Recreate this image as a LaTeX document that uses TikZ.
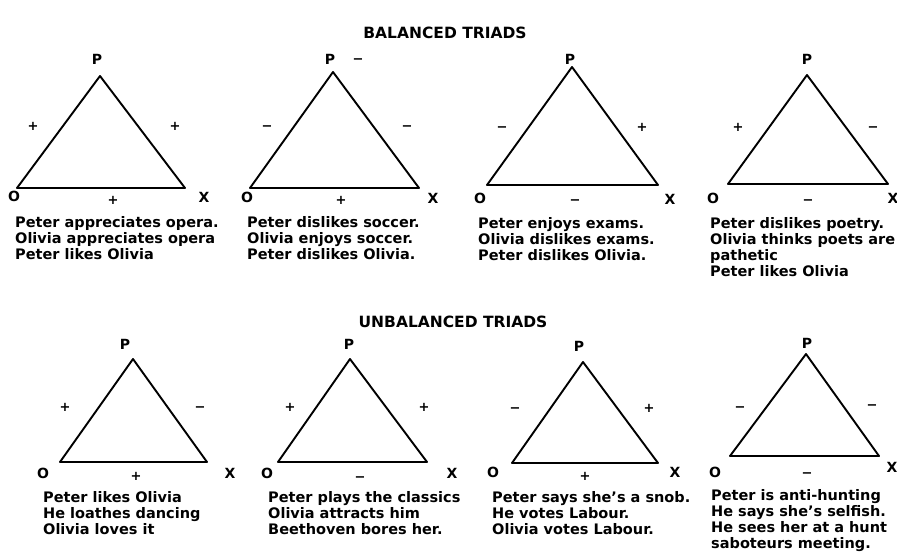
\documentclass[tikz,border=0pt]{standalone}
\usepackage{fontspec}
\setmainfont{DejaVu Sans}
\tikzset{
  edge/.style={line width=1.9pt, line join=round},
  vlabel/.style={font=\bfseries\fontsize{14}{16}\selectfont, inner sep=0pt},
  sign/.style={font=\bfseries\fontsize{13}{14}\selectfont, inner sep=0pt},
  caption/.style={font=\bfseries\fontsize{14.5}{16}\selectfont, align=left, anchor=north west, inner sep=0pt},
  heading/.style={font=\bfseries\fontsize{15.5}{18}\selectfont, inner sep=0pt}
}
\newcommand{\pl}{\vphantom{+}+}
\newcommand{\mi}{\vphantom{+}\char"2212}
\begin{document}
\begin{tikzpicture}[x=1pt,y=-1pt]
\useasboundingbox (0,0) rectangle (897,554);
\clip (0,0) rectangle (897,554);

% headings
\node[heading] (hbal) at (445,33) {BALANCED TRIADS};
\node[heading] (hunb) at (453,322) {UNBALANCED TRIADS};

% ---------- T1
\coordinate (t1a) at (100,76); \coordinate (t1o) at (17,188); \coordinate (t1x) at (185,188);
\draw[edge] (t1a) -- (t1o) -- (t1x) -- cycle;
\node[vlabel] (t1p) at (97,59) {P};
\node[vlabel] (t1ol) at (14,196) {O};
\node[vlabel] (t1xl) at (204,197) {X};
\node[sign] (t1s1) at (33,126) {\pl};
\node[sign] (t1s2) at (175,126) {\pl};
\node[sign] (t1s3) at (113,200) {\pl};
\node[caption] (t1c) at (15,216) {Peter appreciates opera.\\Olivia appreciates opera\\Peter likes Olivia};

% ---------- T2
\coordinate (t2a) at (333,72); \coordinate (t2o) at (250,188); \coordinate (t2x) at (419,188);
\draw[edge] (t2a) -- (t2o) -- (t2x) -- cycle;
\node[vlabel] (t2p) at (330,59) {P};
\node[sign] (t2s0) at (358,59) {\mi};
\node[vlabel] (t2ol) at (247,197) {O};
\node[vlabel] (t2xl) at (433,198) {X};
\node[sign] (t2s1) at (267,126) {\mi};
\node[sign] (t2s2) at (407,126) {\mi};
\node[sign] (t2s3) at (341,200) {\pl};
\node[caption] (t2c) at (247,216) {Peter dislikes soccer.\\Olivia enjoys soccer.\\Peter dislikes Olivia.};

% ---------- T3
\coordinate (t3a) at (572,67); \coordinate (t3o) at (487,185); \coordinate (t3x) at (658,185);
\draw[edge] (t3a) -- (t3o) -- (t3x) -- cycle;
\node[vlabel] (t3p) at (570,59) {P};
\node[vlabel] (t3ol) at (480,198) {O};
\node[vlabel] (t3xl) at (670,199) {X};
\node[sign] (t3s1) at (502,127) {\mi};
\node[sign] (t3s2) at (642,127) {\pl};
\node[sign] (t3s3) at (575,200) {\mi};
\node[caption] (t3c) at (478,217) {Peter enjoys exams.\\Olivia dislikes exams.\\Peter dislikes Olivia.};

% ---------- T4
\coordinate (t4a) at (807,75); \coordinate (t4o) at (728,184); \coordinate (t4x) at (888,184);
\draw[edge] (t4a) -- (t4o) -- (t4x) -- cycle;
\node[vlabel] (t4p) at (807,59) {P};
\node[vlabel] (t4ol) at (713,198) {O};
\node[vlabel] (t4xl) at (893,198) {X};
\node[sign] (t4s1) at (738,127) {\pl};
\node[sign] (t4s2) at (873,127) {\mi};
\node[sign] (t4s3) at (808,200) {\mi};
\node[caption] (t4c) at (710,217) {Peter dislikes poetry.\\Olivia thinks poets are\\pathetic\\Peter likes Olivia};

% ---------- T5
\coordinate (t5a) at (133,359); \coordinate (t5o) at (60,462); \coordinate (t5x) at (207,462);
\draw[edge] (t5a) -- (t5o) -- (t5x) -- cycle;
\node[vlabel] (t5p) at (125,344) {P};
\node[vlabel] (t5ol) at (43,473) {O};
\node[vlabel] (t5xl) at (230,473) {X};
\node[sign] (t5s1) at (65,407) {\pl};
\node[sign] (t5s2) at (200,407) {\mi};
\node[sign] (t5s3) at (136,476) {\pl};
\node[caption] (t5c) at (43,491) {Peter likes Olivia\\He loathes dancing\\Olivia loves it};

% ---------- T6
\coordinate (t6a) at (350,359); \coordinate (t6o) at (278,462); \coordinate (t6x) at (427,462);
\draw[edge] (t6a) -- (t6o) -- (t6x) -- cycle;
\node[vlabel] (t6p) at (349,344) {P};
\node[vlabel] (t6ol) at (267,473) {O};
\node[vlabel] (t6xl) at (452,473) {X};
\node[sign] (t6s1) at (290,407) {\pl};
\node[sign] (t6s2) at (424,407) {\pl};
\node[sign] (t6s3) at (360,477) {\mi};
\node[caption] (t6c) at (268,491) {Peter plays the classics\\Olivia attracts him\\Beethoven bores her.};

% ---------- T7
\coordinate (t7a) at (583,362); \coordinate (t7o) at (512,463); \coordinate (t7x) at (658,463);
\draw[edge] (t7a) -- (t7o) -- (t7x) -- cycle;
\node[vlabel] (t7p) at (579,346) {P};
\node[vlabel] (t7ol) at (493,472) {O};
\node[vlabel] (t7xl) at (675,472) {X};
\node[sign] (t7s1) at (515,408) {\mi};
\node[sign] (t7s2) at (649,408) {\pl};
\node[sign] (t7s3) at (585,476) {\pl};
\node[caption] (t7c) at (492,491) {Peter says she's a snob.\\He votes Labour.\\Olivia votes Labour.};

% ---------- T8
\coordinate (t8a) at (806,354); \coordinate (t8o) at (730,456); \coordinate (t8x) at (879,456);
\draw[edge] (t8a) -- (t8o) -- (t8x) -- cycle;
\node[vlabel] (t8p) at (807,343) {P};
\node[vlabel] (t8ol) at (715,472) {O};
\node[vlabel] (t8xl) at (892,467) {X};
\node[sign] (t8s1) at (740,407) {\mi};
\node[sign] (t8s2) at (872,405) {\mi};
\node[sign] (t8s3) at (807,473) {\mi};
\node[caption] (t8c) at (711,489) {Peter is anti-hunting\\He says she's selfish.\\He sees her at a hunt\\saboteurs meeting.};
\end{tikzpicture}
\end{document}
